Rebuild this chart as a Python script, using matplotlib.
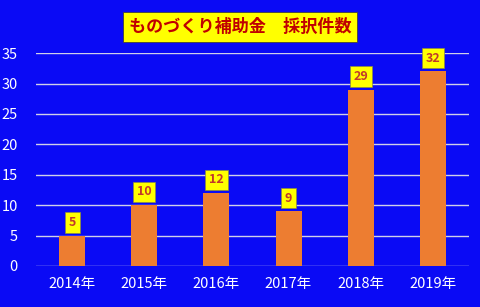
import matplotlib
matplotlib.use("Agg")
import matplotlib.pyplot as plt

plt.rcParams['font.family'] = ['Noto Sans CJK JP', 'DejaVu Sans']

categories = ["2014年", "2015年", "2016年", "2017年", "2018年", "2019年"]
values = [5, 10, 12, 9, 29, 32]
title = "ものづくり補助金　採択件数"
yticks = [0, 5, 10, 15, 20, 25, 30, 35]

bg = "#0A0AF5"
fig = plt.figure(figsize=(4.8, 3.07), dpi=100, facecolor=bg)
ax = fig.add_axes([0.075, 0.1336, 0.902, 0.6934], facecolor=bg)

x = range(len(categories))
ax.bar(x, values, width=0.36, color="#ED7D31", zorder=3)
ax.set_xlim(-0.5, len(categories) - 0.5)
ax.set_ylim(0, 35)
ax.set_yticks(yticks)
ax.set_xticks(list(x))
ax.set_xticklabels(categories)
ax.grid(axis="y", color="#D0D0E8", linewidth=1.0, zorder=1)
for s in ax.spines.values():
    s.set_visible(False)
ax.tick_params(axis="both", length=0, colors="white", labelsize=10.5)
ax.tick_params(axis="y", pad=13)
ax.tick_params(axis="x", pad=8)

for xi, v in zip(x, values):
    ax.annotate(str(v), (xi, v), xytext=(0, 9.5), textcoords="offset points",
                ha="center", va="center", fontsize=9, fontweight="bold",
                color="#C0392B", zorder=5,
                bbox=dict(boxstyle="square,pad=0.3", fc="#FFFF00", ec="#8a8a40", lw=0.5))

fig.text(0.5, 0.912, title, ha="center", va="center", fontsize=12.3,
         fontweight="bold", color="#C00000",
         bbox=dict(boxstyle="square,pad=0.35", fc="#FFFF00", ec="#404040", lw=0.6))

fig.savefig("out.png", dpi=100, facecolor=bg)
